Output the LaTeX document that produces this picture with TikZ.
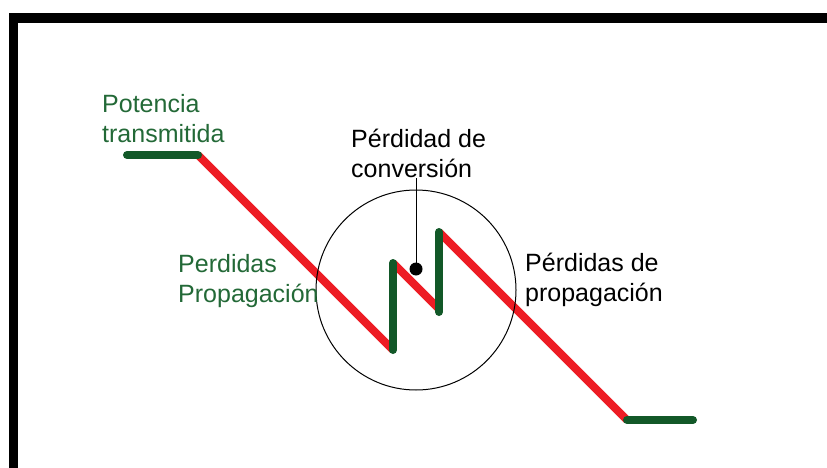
\documentclass[tikz,border=0pt]{standalone}
\usepackage{fontspec}
\setmainfont{Liberation Sans}
\definecolor{redline}{RGB}{237,28,36}
\definecolor{greenline}{RGB}{18,88,40}
\definecolor{greentext}{RGB}{35,105,55}
\tikzset{
  redseg/.style={draw=redline, line width=8pt},
  greenseg/.style={draw=greenline, line width=8pt, line cap=round},
  lbl/.style={anchor=base west, inner sep=0pt, font=\fontsize{25}{30}\selectfont},
  framebar/.style={fill=black},
}
\newcommand{\twolines}[2]{\begin{tabular}[t]{@{}l@{}}#1\\#2\end{tabular}}
\begin{document}
\begin{tikzpicture}[x=1pt,y=-1pt]
\useasboundingbox (0,0) rectangle (827,468);
% frame
\fill[framebar] (9,13) rectangle (827,23);
\fill[framebar] (9,13) rectangle (18,468);
% vertices
\coordinate (a) at (127,155);
\coordinate (b) at (198,155);
\coordinate (c) at (393,350);
\coordinate (d) at (393,263);
\coordinate (e) at (439,309);
\coordinate (e2) at (439,312);
\coordinate (f) at (439,232);
\coordinate (g) at (627,420);
\coordinate (h) at (693,420);
% red segments
\draw[redseg] (b) -- (c);
\draw[redseg] (d) -- (e);
\draw[redseg] (f) -- (g);
% green segments
\draw[greenseg] (a) -- (b);
\draw[greenseg] (c) -- (d);
\draw[greenseg] (e2) -- (f);
\draw[greenseg] (g) -- (h);
% circle
\node[circle, draw=black, line width=1pt, minimum size=200pt, inner sep=0pt] (zone) at (416,290) {};
% conversion loss pointer
\node[circle, fill=black, minimum size=13pt, inner sep=0pt] (dot) at (416,269) {};
\coordinate (tip) at (416,178);
\draw[line width=1pt] (tip) -- (dot.center);
% labels
\node[lbl, text=greentext] (pot) at (102,113) {\twolines{Potencia}{transmitida}};
\node[lbl, text=black] (conv) at (351,147) {\twolines{Pérdidad de}{conversión}};
\node[lbl, text=greentext] (prop1) at (178,272) {\twolines{Perdidas}{Propagación}};
\node[lbl, text=black] (prop2) at (525,271) {\twolines{Pérdidas de}{propagación}};
\end{tikzpicture}
\end{document}
